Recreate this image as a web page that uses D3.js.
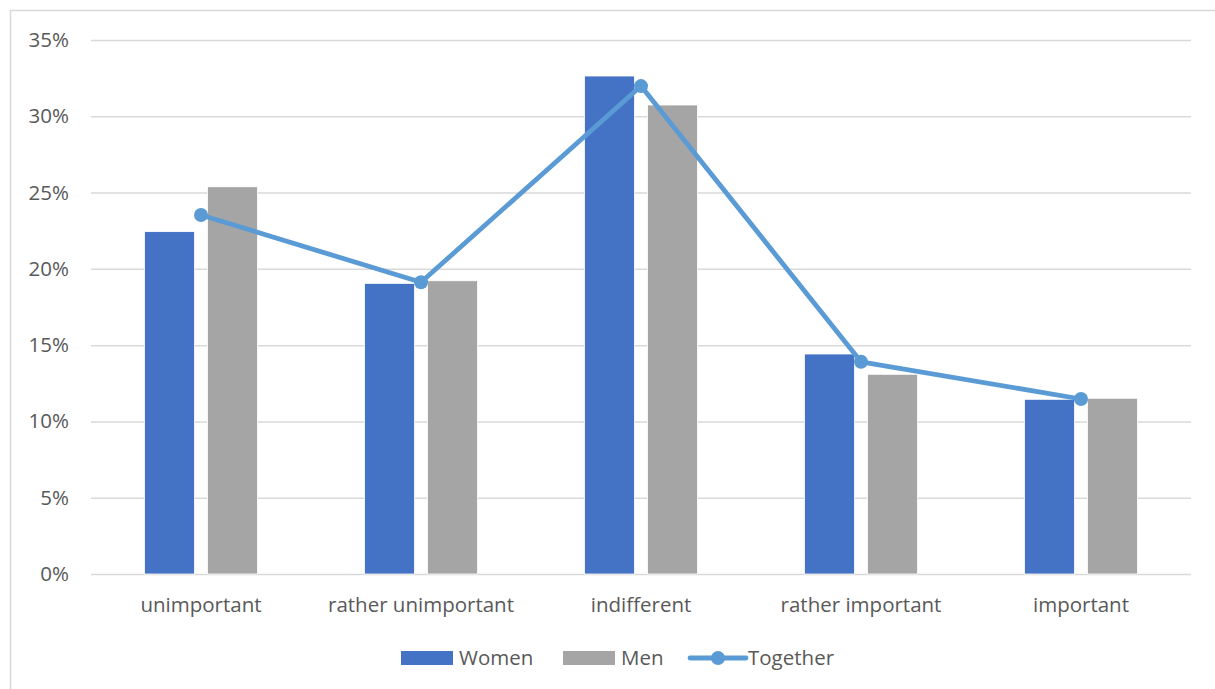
<!DOCTYPE html>
<html>
<head>
<meta charset="utf-8">
<script src="https://cdn.jsdelivr.net/npm/d3@7"></script>
<style>
  html, body { margin: 0; padding: 0; background: #ffffff; }
  svg { display: block; }
  text { font-family: "Open Sans", "Noto Sans", sans-serif; fill: #595959; }
</style>
</head>
<body>
<svg id="chart" width="1215" height="689"></svg>
<script>
// Importance ratings by respondent group (share of answers)
const categories = ["unimportant", "rather unimportant", "indifferent", "rather important", "important"];
const women    = [0.2244, 0.1905, 0.3264, 0.1442, 0.1145];
const men      = [0.2538, 0.1922, 0.3074, 0.1309, 0.1152];
const together = [0.2353, 0.1912, 0.3198, 0.1391, 0.1147];
const yTicks   = [0, 0.05, 0.10, 0.15, 0.20, 0.25, 0.30, 0.35];
const seriesNames = ["Women", "Men", "Together"];
const colors = { Women: "#4472C4", Men: "#A5A5A5", Together: "#5B9BD5" };

const svg = d3.select("#chart");
const W = 1215, H = 689;

// outer chart frame (open at right and bottom edges)
svg.append("rect")
  .attr("x", 10.5).attr("y", 10.5)
  .attr("width", W + 20).attr("height", H + 20)
  .attr("fill", "none").attr("stroke", "#D9D9D9").attr("stroke-width", 1.5);

const plot = { left: 91, right: 1191, top: 40, bottom: 574 };

const x = d3.scaleBand().domain(categories).range([plot.left, plot.right]).paddingInner(0).paddingOuter(0);
const y = d3.scaleLinear().domain([0, 0.35]).range([plot.bottom, plot.top]);

// gridlines + y labels
const yAxis = d3.axisLeft(y).tickValues(yTicks).tickFormat(d3.format(".0%"))
  .tickSize(-(plot.right - plot.left)).tickPadding(22);
const gy = svg.append("g").attr("transform", `translate(${plot.left},0)`).call(yAxis);
gy.select(".domain").remove();
gy.selectAll(".tick line").attr("stroke", "#D9D9D9").attr("stroke-width", 1.5);
gy.selectAll(".tick text").attr("font-size", 20.5).attr("fill", "#595959")
  .attr("font-family", '"Open Sans", "Noto Sans", sans-serif');

// x labels
const xAxis = d3.axisBottom(x).tickSize(0).tickPadding(23);
const gx = svg.append("g").attr("transform", `translate(0,${plot.bottom})`).call(xAxis);
gx.select(".domain").remove();
gx.selectAll(".tick text").attr("font-size", 20.5).attr("fill", "#595959")
  .attr("font-family", '"Open Sans", "Noto Sans", sans-serif');

// grouped bars
const barW = 50, gap = 13;
const inner = d3.scaleOrdinal().domain(["Women", "Men"])
  .range([-(gap / 2) - barW, gap / 2]);
const barData = [];
categories.forEach((c, i) => {
  barData.push({ cat: c, s: "Women", v: women[i] });
  barData.push({ cat: c, s: "Men", v: men[i] });
});
svg.append("g").selectAll("rect").data(barData).join("rect")
  .attr("x", d => x(d.cat) + x.bandwidth() / 2 + inner(d.s))
  .attr("y", d => y(d.v))
  .attr("width", barW)
  .attr("height", d => y(0) - y(d.v))
  .attr("fill", d => colors[d.s])
  .attr("stroke", "#ffffff").attr("stroke-width", 0.8);

// "Together" line with markers
const lineData = categories.map((c, i) => ({ cat: c, v: together[i] }));
const line = d3.line().x(d => x(d.cat) + x.bandwidth() / 2).y(d => y(d.v));
svg.append("path").datum(lineData)
  .attr("d", line).attr("fill", "none")
  .attr("stroke", colors.Together).attr("stroke-width", 4.8)
  .attr("stroke-linejoin", "round").attr("stroke-linecap", "round");
svg.append("g").selectAll("circle").data(lineData).join("circle")
  .attr("cx", d => x(d.cat) + x.bandwidth() / 2)
  .attr("cy", d => y(d.v))
  .attr("r", 7)
  .attr("fill", colors.Together);

// legend
const lg = svg.append("g");
const legY = 658;
const items = [
  { name: "Women", x: 401, type: "bar" },
  { name: "Men", x: 563, type: "bar" },
  { name: "Together", x: 690, type: "line" }
];
items.forEach(it => {
  if (it.type === "bar") {
    lg.append("rect").attr("x", it.x).attr("y", legY - 7).attr("width", 52).attr("height", 14)
      .attr("fill", colors[it.name]);
    lg.append("text").attr("x", it.x + 58).attr("y", legY).attr("dy", "0.35em")
      .attr("font-size", 20.5).text(it.name);
  } else {
    lg.append("line").attr("x1", it.x).attr("x2", it.x + 56).attr("y1", legY).attr("y2", legY)
      .attr("stroke", colors[it.name]).attr("stroke-width", 4.8).attr("stroke-linecap", "round");
    lg.append("circle").attr("cx", it.x + 28).attr("cy", legY).attr("r", 7).attr("fill", colors[it.name]);
    lg.append("text").attr("x", it.x + 58).attr("y", legY).attr("dy", "0.35em")
      .attr("font-size", 20.5).text(it.name);
  }
});
</script>
</body>
</html>
